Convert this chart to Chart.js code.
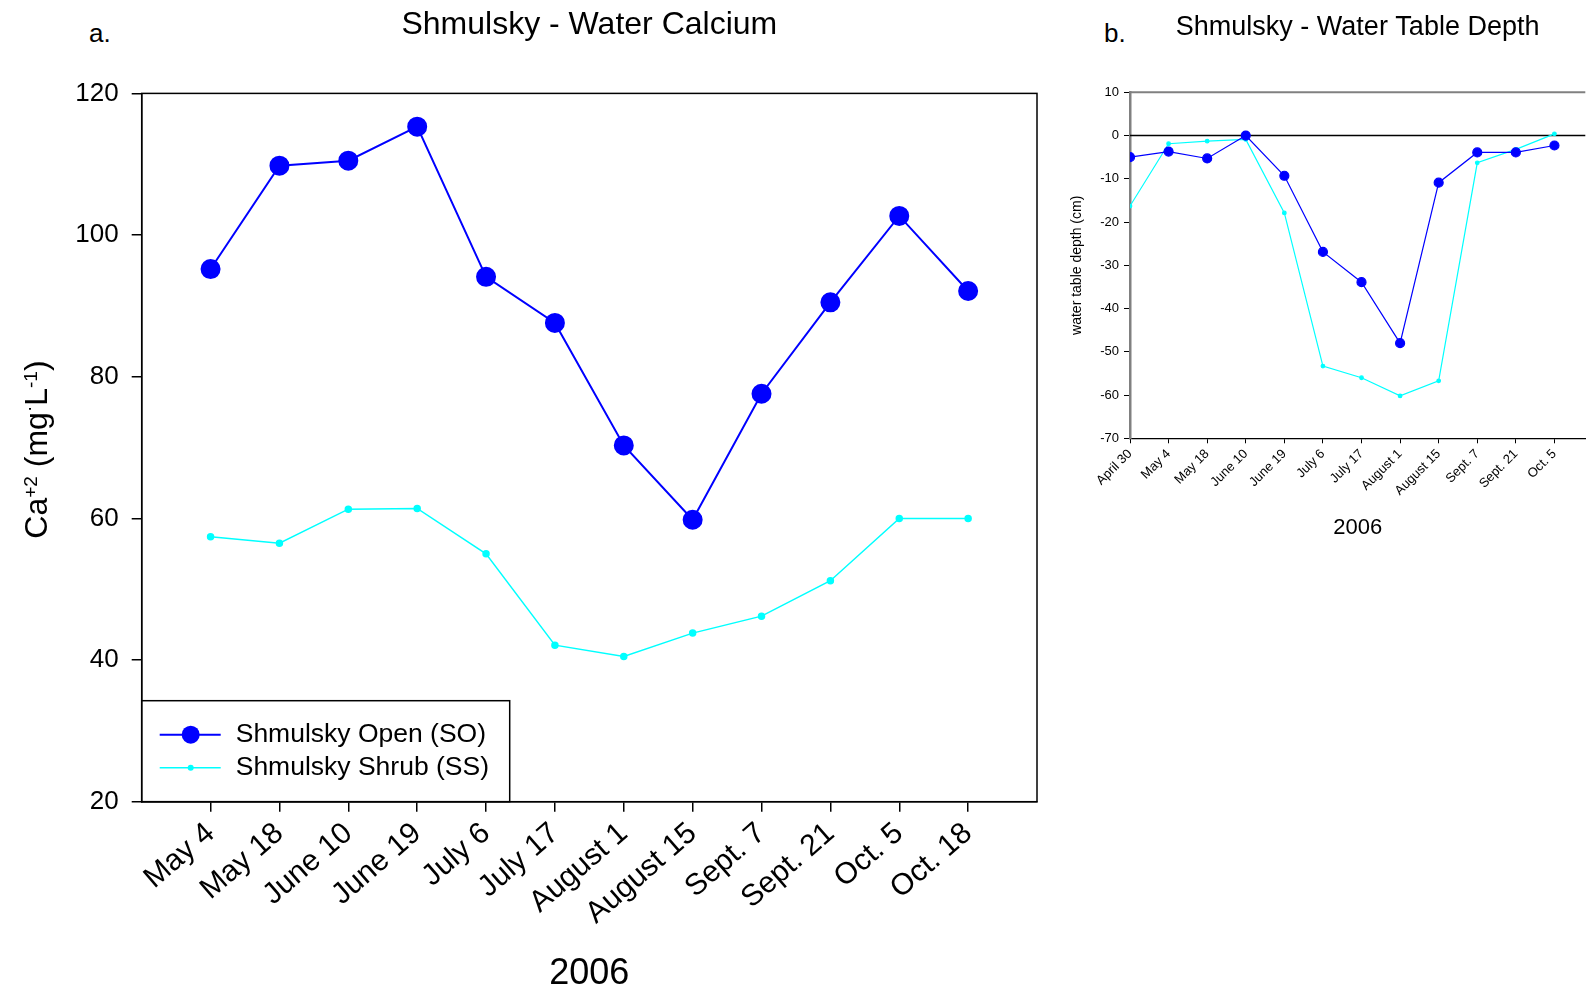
<!DOCTYPE html>
<html>
<head>
<meta charset="utf-8">
<script src="https://cdn.jsdelivr.net/npm/chart.js@4.4.1/dist/chart.umd.min.js"></script>
<style>
  html, body { margin: 0; padding: 0; background: #fff; overflow: hidden; }
  body { width: 1591px; height: 991px; position: relative; font-family: "Liberation Sans", Arial, sans-serif; }
  .box { position: absolute; }
  .tag { position: absolute; font-size: 26px; line-height: 26px; color: #000; }
</style>
</head>
<body>
<div class="tag" style="left:89px; top:20px;">a.</div>
<div class="tag" style="left:1104px; top:20px;">b.</div>
<div class="box" style="left:0; top:0; width:1060px; height:991px;"><canvas id="calcium"></canvas></div>
<div class="box" style="left:1040px; top:0; width:551px; height:550px;"><canvas id="depth"></canvas></div>
<script>
// panel a - water calcium (mg/L)
const calciumDates = ['May 4', 'May 18', 'June 10', 'June 19', 'July 6', 'July 17', 'August 1', 'August 15', 'Sept. 7', 'Sept. 21', 'Oct. 5', 'Oct. 18'];
const calciumOpen = [95.2, 109.8, 110.5, 115.3, 94.1, 87.6, 70.3, 59.8, 77.6, 90.5, 102.7, 92.1];
const calciumShrub = [57.4, 56.5, 61.3, 61.4, 55.0, 42.1, 40.5, 43.8, 46.2, 51.2, 60.0, 60.0];

// panel b - water table depth (cm)
const depthDates = ['April 30', 'May 4', 'May 18', 'June 10', 'June 19', 'July 6', 'July 17', 'August 1', 'August 15', 'Sept. 7', 'Sept. 21', 'Oct. 5'];
const depthOpen = [-5.0, -3.7, -5.3, 0, -9.3, -26.9, -33.9, -48.0, -10.9, -3.9, -3.9, -2.3];
const depthShrub = [-16.3, -1.9, -1.3, -0.9, -17.9, -53.3, -56.0, -60.2, -56.7, -6.3, -3.2, 0.4];

const FONT = '"Liberation Sans", Arial, sans-serif';
Chart.defaults.font.family = FONT;
Chart.defaults.color = '#000';

const toPoints = (vals, start) => vals.map((v, i) => ({ x: i + start, y: v }));

// box round the plot of panel a
const calciumFrame = {
  id: 'calciumFrame',
  afterDraw(chart) {
    const { ctx, chartArea: a } = chart;
    ctx.save();
    ctx.strokeStyle = '#000';
    ctx.lineWidth = 1.5;
    ctx.strokeRect(a.left, a.top, a.right - a.left, a.bottom - a.top);
    ctx.restore();
  }
};

// legend box in the lower left corner
const calciumLegend = {
  id: 'calciumLegend',
  afterDatasetsDraw(chart) {
    const { ctx, chartArea: a } = chart;
    const w = 368, h = 101;
    const top = a.bottom - h;
    ctx.save();
    ctx.fillStyle = '#fff';
    ctx.fillRect(a.left, top, w, h);
    ctx.strokeStyle = '#000';
    ctx.lineWidth = 1.5;
    ctx.strokeRect(a.left, top, w, h);
    chart.data.datasets.forEach((ds, i) => {
      const y = top + 34 + i * 33;
      ctx.strokeStyle = ds.borderColor;
      ctx.lineWidth = ds.borderWidth;
      ctx.beginPath();
      ctx.moveTo(a.left + 18, y);
      ctx.lineTo(a.left + 79, y);
      ctx.stroke();
      ctx.fillStyle = ds.pointBackgroundColor;
      ctx.beginPath();
      ctx.arc(a.left + 49, y, ds.pointRadius, 0, Math.PI * 2);
      ctx.fill();
      ctx.fillStyle = '#000';
      ctx.font = '26.5px ' + FONT;
      ctx.textAlign = 'left';
      ctx.textBaseline = 'middle';
      ctx.fillText(ds.label, a.left + 94, y);
    });
    ctx.restore();
  }
};

// y title with superscripts: Ca+2 (mg.L-1)
const calciumYTitle = {
  id: 'calciumYTitle',
  afterDraw(chart) {
    const { ctx, chartArea: a } = chart;
    const parts = [['Ca', 32, 0], ['+2', 19, -10], [' (mg', 32, 0], ['\u00b7', 19, -12], ['L', 32, 0], ['-1', 19, -10], [')', 32, 0]];
    ctx.save();
    let total = 0;
    parts.forEach(p => { ctx.font = p[1] + 'px ' + FONT; total += ctx.measureText(p[0]).width; });
    ctx.translate(47, (a.top + a.bottom) / 2 + 2);
    ctx.rotate(-Math.PI / 2);
    ctx.fillStyle = '#000';
    ctx.textAlign = 'left';
    ctx.textBaseline = 'alphabetic';
    let x = -total / 2;
    parts.forEach(p => {
      ctx.font = p[1] + 'px ' + FONT;
      ctx.fillText(p[0], x, p[2]);
      x += ctx.measureText(p[0]).width;
    });
    ctx.restore();
  }
};

new Chart(document.getElementById('calcium'), {
  type: 'line',
  data: {
    datasets: [{
      label: 'Shmulsky Open (SO)',
      data: toPoints(calciumOpen, 1),
      borderColor: '#0000ff',
      backgroundColor: '#0000ff',
      pointBackgroundColor: '#0000ff',
      pointBorderColor: '#0000ff',
      borderWidth: 2,
      pointRadius: 9,
      tension: 0
    }, {
      label: 'Shmulsky Shrub (SS)',
      data: toPoints(calciumShrub, 1),
      borderColor: '#00ffff',
      backgroundColor: '#00ffff',
      pointBackgroundColor: '#00ffff',
      pointBorderColor: '#00ffff',
      borderWidth: 1.5,
      pointRadius: 3,
      tension: 0
    }]
  },
  options: {
    responsive: true,
    maintainAspectRatio: false,
    animation: false,
    layout: { padding: { left: 0, right: 23, top: 0, bottom: 0 } },
    plugins: {
      legend: { display: false },
      tooltip: { enabled: false },
      title: {
        display: true,
        text: 'Shmulsky - Water Calcium',
        fullSize: false,
        font: { size: 32, weight: 'normal' },
        padding: { top: 6, bottom: 49 }
      }
    },
    scales: {
      x: {
        type: 'linear',
        min: 0,
        max: 13,
        afterBuildTicks: s => { s.ticks = calciumDates.map((d, i) => ({ value: i + 1 })); },
        afterFit: s => { s.height = 189.3; },
        ticks: {
          autoSkip: false,
          minRotation: 41,
          maxRotation: 41,
          font: { size: 30 },
          padding: 4,
          callback: v => calciumDates[v - 1]
        },
        grid: { drawOnChartArea: false, tickLength: 10, color: '#000', lineWidth: 1.5 },
        border: { color: '#000', width: 1.5 },
        title: { display: true, text: '2006', font: { size: 36, lineHeight: 0.92 }, padding: { top: 0, bottom: 0 } }
      },
      y: {
        min: 20,
        max: 120,
        afterFit: s => { s.width = 141.7; },
        ticks: { stepSize: 20, font: { size: 26 }, padding: 13 },
        grid: { drawOnChartArea: false, tickLength: 10, color: '#000', lineWidth: 1.5 },
        border: { color: '#000', width: 1.5 }
      }
    }
  },
  plugins: [calciumLegend, calciumFrame, calciumYTitle]
});

// top frame line and zero line of panel b
const depthFrame = {
  id: 'depthFrame',
  beforeDatasetsDraw(chart) {
    const { ctx, chartArea: a, scales } = chart;
    const y0 = scales.y.getPixelForValue(0);
    ctx.save();
    ctx.strokeStyle = '#000';
    ctx.lineWidth = 1.5;
    ctx.beginPath();
    ctx.moveTo(a.left, y0);
    ctx.lineTo(a.right, y0);
    ctx.stroke();
    ctx.strokeStyle = '#808080';
    ctx.lineWidth = 2;
    ctx.beginPath();
    ctx.moveTo(a.left, a.top);
    ctx.lineTo(a.right, a.top);
    ctx.stroke();
    ctx.restore();
  }
};

new Chart(document.getElementById('depth'), {
  type: 'line',
  data: {
    datasets: [{
      label: 'Shmulsky Open (SO)',
      data: toPoints(depthOpen, 0),
      borderColor: '#0000ff',
      backgroundColor: '#0000ff',
      pointBackgroundColor: '#0000ff',
      pointBorderColor: '#0000ff',
      borderWidth: 1.2,
      pointRadius: 4.5,
      tension: 0
    }, {
      label: 'Shmulsky Shrub (SS)',
      data: toPoints(depthShrub, 0),
      borderColor: '#00ffff',
      backgroundColor: '#00ffff',
      pointBackgroundColor: '#00ffff',
      pointBorderColor: '#00ffff',
      borderWidth: 1.2,
      pointRadius: 1.8,
      tension: 0
    }]
  },
  options: {
    responsive: true,
    maintainAspectRatio: false,
    animation: false,
    layout: { padding: 0 },
    plugins: {
      legend: { display: false },
      tooltip: { enabled: false },
      title: {
        display: true,
        text: 'Shmulsky - Water Table Depth',
        fullSize: false,
        font: { size: 27, weight: 'normal' },
        padding: { top: 11, bottom: 48.9 }
      }
    },
    scales: {
      x: {
        type: 'linear',
        min: 0,
        max: 11.8,
        afterBuildTicks: s => { s.ticks = depthDates.map((d, i) => ({ value: i })); },
        afterFit: s => { s.height = 111.7; },
        ticks: {
          autoSkip: false,
          minRotation: 45,
          maxRotation: 45,
          font: { size: 13 },
          padding: 3,
          callback: v => depthDates[v]
        },
        grid: { drawOnChartArea: false, tickLength: 5, color: '#000', lineWidth: 1 },
        border: { color: '#000', width: 1.2 },
        title: { display: true, text: '2006', font: { size: 22 }, padding: { top: 0, bottom: 9 } }
      },
      y: {
        min: -70,
        max: 10,
        afterFit: s => { s.width = 90; },
        ticks: { stepSize: 10, font: { size: 13 }, padding: 5 },
        grid: { drawOnChartArea: false, tickLength: 6, color: '#000', lineWidth: 1 },
        border: { color: '#808080', width: 2.5 },
        title: { display: true, text: 'water table depth (cm)', font: { size: 14 }, padding: { top: 29, bottom: 0 } }
      }
    }
  },
  plugins: [depthFrame]
});
</script>
</body>
</html>
